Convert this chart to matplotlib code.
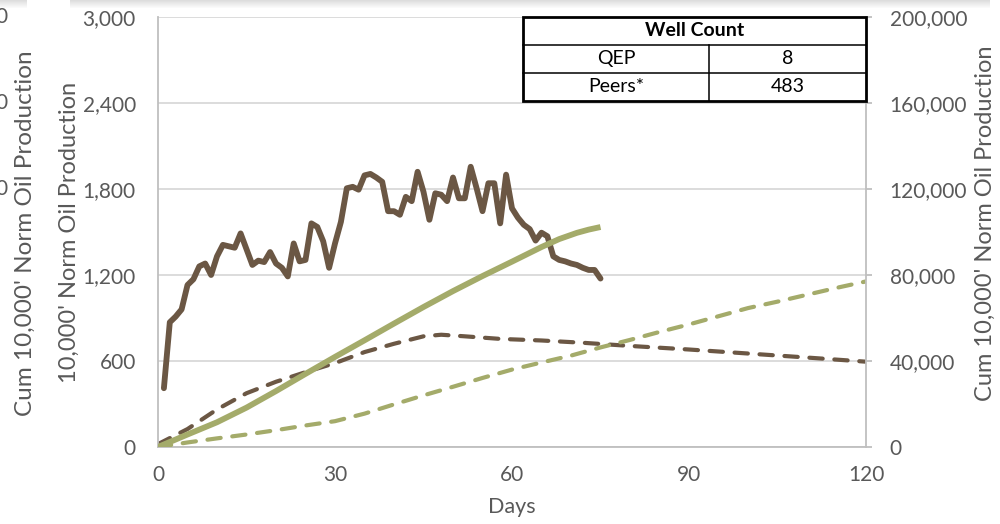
import numpy as np
import matplotlib.pyplot as plt
from matplotlib.patches import Rectangle
from matplotlib.ticker import FuncFormatter, MultipleLocator

plt.rcParams['font.family'] = ['Lato', 'DejaVu Sans']

# QEP daily rate (left axis)
qep_days = np.arange(1, 76)
qep_rate = [410, 870, 910, 960, 1130, 1170, 1260, 1280, 1200, 1330,
            1410, 1400, 1390, 1490, 1380, 1270, 1300, 1290, 1360, 1280,
            1250, 1190, 1420, 1295, 1305, 1560, 1535, 1435, 1250, 1420,
            1570, 1805, 1815, 1795, 1895, 1905, 1880, 1850, 1645, 1645,
            1620, 1745, 1715, 1920, 1780, 1585, 1770, 1760, 1715, 1880,
            1735, 1735, 1955, 1805, 1645, 1840, 1840, 1560, 1900, 1665,
            1600, 1550, 1520, 1440, 1495, 1470, 1330, 1305, 1295, 1280,
            1270, 1250, 1235, 1235, 1175]

# QEP cumulative (right axis)
qep_cum_days = [0, 5, 10, 15, 20, 25, 30, 35, 40, 45, 50, 55, 60, 65, 68,
                71, 73, 75]
qep_cum = [0, 5800, 11500, 18300, 26000, 34000, 41900, 49600, 57400,
           65100, 72500, 79500, 86200, 93000, 96700, 99600, 101100, 102300]

# peer type curve rate (left axis)
peer_rate_days = [0, 5, 10, 15, 20, 25, 30, 35, 40, 45, 48, 52, 58, 65,
                  72, 80, 90, 100, 110, 120]
peer_rate = [20, 125, 262, 375, 455, 522, 585, 662, 720, 772, 783, 772,
             754, 743, 727, 705, 680, 652, 624, 595]

# peer type curve cumulative (right axis)
peer_cum_days = [0, 5, 10, 15, 20, 25, 30, 35, 40, 45, 50, 55, 60, 65, 70,
                 75, 80, 85, 90, 95, 100, 105, 110, 115, 120]
peer_cum = [0, 2100, 4000, 5800, 7800, 10000, 12000, 15500, 19800, 24000,
            28000, 32100, 36000, 39300, 42500, 46300, 49800, 53500, 57000,
            60800, 64600, 67600, 70800, 74000, 77000]

well_names = ["QEP", "Peers*"]
well_counts = [8, 483]

brown = "#6b5744"
green = "#a4ab6a"
grey_txt = "#595959"
axis_grey = "#bfbfbf"

fig = plt.figure(figsize=(10, 5.24), dpi=100)

# faint frame shadow along the top edge
for i in range(8):
    a = 0.35 * (1 - i / 8)
    for x0, w in [(0.0, 0.027), (0.07, 0.92)]:
        fig.patches.append(Rectangle((x0, 1 - (i + 1) / 524), w, 1 / 524,
                                     transform=fig.transFigure,
                                     color="#a0a0a0", alpha=a, lw=0))

ax = fig.add_axes([0.158, 0.147, 0.708, 0.8206])
ax2 = ax.twinx()

ax.plot(qep_days, qep_rate, color=brown, lw=4.2, solid_joinstyle='round',
        solid_capstyle='round', zorder=3)
ax.plot(peer_rate_days, peer_rate, color=brown, lw=3, dashes=(3.2, 2.8),
        dash_capstyle='round', zorder=2)
ax2.plot(qep_cum_days, qep_cum, color=green, lw=4.2, solid_capstyle='butt',
         solid_joinstyle='round', zorder=3)
ax2.plot(peer_cum_days, peer_cum, color=green, lw=3, dashes=(3.2, 2.8),
         dash_capstyle='round', zorder=2)

ax.set_xlim(0, 120)
ax.set_ylim(0, 3000)
ax2.set_ylim(0, 200000)
ax.xaxis.set_major_locator(MultipleLocator(30))
ax.yaxis.set_major_locator(MultipleLocator(600))
ax2.yaxis.set_major_locator(MultipleLocator(40000))
fmt = FuncFormatter(lambda v, p: f"{v:,.0f}")
ax.yaxis.set_major_formatter(fmt)
ax2.yaxis.set_major_formatter(fmt)

ax.yaxis.grid(True, color="#d9d9d9", lw=1.3)
ax.set_axisbelow(True)

for a in (ax, ax2):
    a.spines['top'].set_visible(False)
ax.spines['right'].set_visible(False)
ax2.spines['left'].set_visible(False)
ax2.spines['bottom'].set_visible(False)
for s in (ax.spines['left'], ax.spines['bottom'], ax2.spines['right']):
    s.set_color(axis_grey)
    s.set_linewidth(1.3)

ax.tick_params(axis='y', length=0, pad=16, labelsize=15, labelcolor=grey_txt)
ax.tick_params(axis='x', length=0, pad=13, labelsize=15, labelcolor=grey_txt)
ax2.tick_params(axis='y', length=4, width=1.3, color=axis_grey, pad=13,
                labelsize=15, labelcolor=grey_txt)

fig.text(0.512, 1 - 507 / 524, "Days", ha='center', va='center',
         fontsize=15.5, color=grey_txt)
fig.text(0.069, 0.557, "10,000' Norm Oil Production", rotation=90,
         ha='center', va='center', fontsize=17, color=grey_txt)
fig.text(0.985, 0.574, "Cum 10,000' Norm Oil Production", rotation=90,
         ha='center', va='center', fontsize=17, color=grey_txt)

# edge of the neighbouring panel
fig.text(0.025, 0.555, "Cum 10,000' Norm Oil Production", rotation=90,
         ha='center', va='center', fontsize=17.5, color=grey_txt)
for py in (17, 103, 189):
    fig.text(0.007, 1 - py / 524, "0", ha='right', va='center',
             fontsize=15, color=grey_txt)

# well count table
x0, xm, x1 = 0.5155, 0.778, 1.0
rows = [1.0, 0.9349, 0.8698, 0.8047]
tr = ax2.transAxes
ax2.add_patch(Rectangle((x0, rows[3]), x1 - x0, rows[0] - rows[3],
                        transform=tr, facecolor='white', edgecolor='black',
                        lw=2, zorder=10, clip_on=False))
for yy in rows[1:3]:
    ax2.plot([x0, x1], [yy, yy], transform=tr, color='black', lw=1.1,
             zorder=11, clip_on=False)
ax2.plot([xm, xm], [rows[1], rows[3]], transform=tr, color='black', lw=1.1,
         zorder=11, clip_on=False)
ax2.text((x0 + x1) / 2, (rows[0] + rows[1]) / 2, "Well Count",
         transform=tr, ha='center', va='center', fontsize=14,
         fontweight='bold', color='black', zorder=12)
for i, (name, cnt) in enumerate(zip(well_names, well_counts)):
    yc = (rows[i + 1] + rows[i + 2]) / 2
    ax2.text((x0 + xm) / 2, yc, name, transform=tr, ha='center',
             va='center', fontsize=14, color='black', zorder=12)
    ax2.text((xm + x1) / 2, yc, str(cnt), transform=tr, ha='center',
             va='center', fontsize=14, color='black', zorder=12)

fig.savefig("out.png", dpi=100)
